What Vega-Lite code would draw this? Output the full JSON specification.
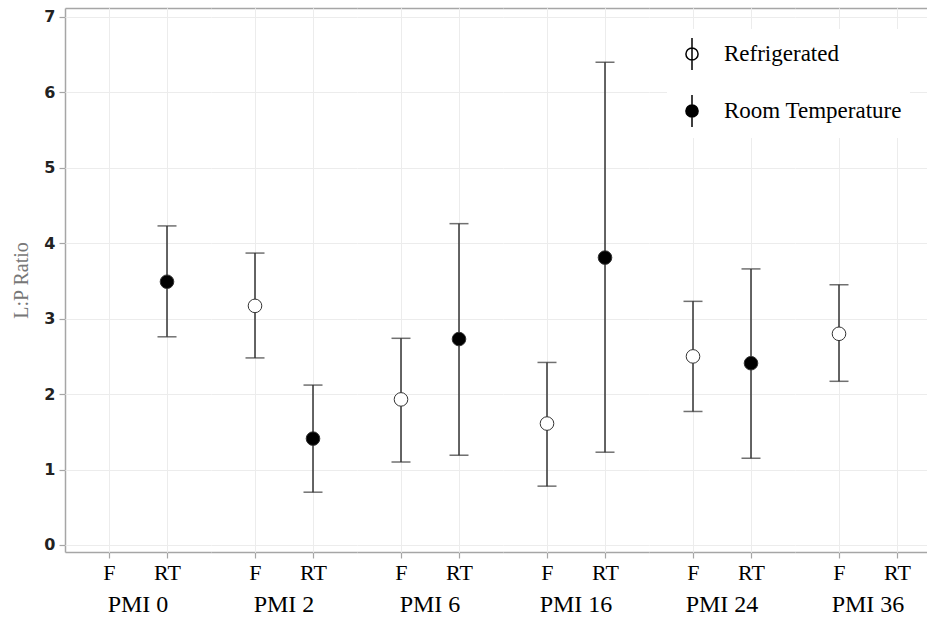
{
  "$schema": "https://vega.github.io/schema/vega-lite/v6.json",
  "background": "white",
  "padding": {"left": 11, "top": 8, "right": 0, "bottom": 0},
  "bounds": "flush",
  "data": {
    "values": [
      {"PMI": "PMI 0", "Storage": "Room Temperature", "ratio": 3.49, "lower": 2.76, "upper": 4.23},
      {"PMI": "PMI 2", "Storage": "Refrigerated", "ratio": 3.17, "lower": 2.48, "upper": 3.87},
      {"PMI": "PMI 2", "Storage": "Room Temperature", "ratio": 1.41, "lower": 0.70, "upper": 2.12},
      {"PMI": "PMI 6", "Storage": "Refrigerated", "ratio": 1.93, "lower": 1.10, "upper": 2.74},
      {"PMI": "PMI 6", "Storage": "Room Temperature", "ratio": 2.73, "lower": 1.19, "upper": 4.26},
      {"PMI": "PMI 16", "Storage": "Refrigerated", "ratio": 1.61, "lower": 0.78, "upper": 2.42},
      {"PMI": "PMI 16", "Storage": "Room Temperature", "ratio": 3.81, "lower": 1.23, "upper": 6.40},
      {"PMI": "PMI 24", "Storage": "Refrigerated", "ratio": 2.50, "lower": 1.77, "upper": 3.23},
      {"PMI": "PMI 24", "Storage": "Room Temperature", "ratio": 2.41, "lower": 1.15, "upper": 3.66},
      {"PMI": "PMI 36", "Storage": "Refrigerated", "ratio": 2.80, "lower": 2.17, "upper": 3.45}
    ]
  },
  "facet": {
    "column": {
      "field": "PMI",
      "type": "nominal",
      "sort": ["PMI 0", "PMI 2", "PMI 6", "PMI 16", "PMI 24", "PMI 36"],
      "header": {
        "title": null,
        "labelOrient": "bottom",
        "labelFont": "Liberation Serif",
        "labelFontSize": 24,
        "labelColor": "black",
        "labelPadding": 10
      }
    }
  },
  "spacing": 0,
  "spec": {
    "width": 146,
    "height": 544,
    "layer": [
      {
        "mark": {
          "type": "errorbar",
          "ticks": {"size": 19, "thickness": 1.5, "color": "#333333"},
          "rule": {"strokeWidth": 1.5, "color": "#333333"}
        },
        "encoding": {
          "x": {"field": "Storage", "type": "nominal", "title": null,
                "scale": {"type": "point", "domain": ["Refrigerated", "Room Temperature"], "padding": 0.7586},
                "axis": {"orient": "top", "labels": false, "ticks": false, "grid": true, "domain": true}},
          "y": {"field": "lower", "type": "quantitative", "title": "L:P Ratio",
                "scale": {"domain": [-0.093, 7.119], "nice": false, "zero": false},
                "axis": {"values": [0, 1, 2, 3, 4, 5, 6, 7], "format": "d"}},
          "y2": {"field": "upper"}
        }
      },
      {
        "mark": {"type": "point", "shape": "circle", "filled": false, "size": 185, "stroke": "#333333", "strokeWidth": 1, "opacity": 1},
        "encoding": {
          "x": {"field": "Storage", "type": "nominal", "title": null, "axis": {"orient": "bottom", "grid": true}},
          "y": {"field": "ratio", "type": "quantitative", "title": "L:P Ratio"},
          "fill": {
            "field": "Storage", "type": "nominal",
            "scale": {"domain": ["Refrigerated", "Room Temperature"], "range": ["white", "black"]},
            "legend": {
              "title": null,
              "orient": "none",
              "legendX": 602,
              "legendY": 21
            }
          }
        }
      }
    ]
  },
  "config": {
    "view": {"stroke": null},
    "axis": {
      "domainColor": "#a6a6a6",
      "domainWidth": 1.5,
      "tickColor": "#a6a6a6",
      "tickSize": 6,
      "tickWidth": 1.2,
      "gridColor": "#ececec",
      "gridWidth": 1
    },
    "axisX": {
      "grid": true,
      "labelAngle": 0,
      "labelFont": "Liberation Serif",
      "labelFontSize": 22,
      "labelColor": "black",
      "labelPadding": 4,
      "labelExpr": "datum.value == 'Refrigerated' ? 'F' : 'RT'"
    },
    "axisY": {
      "grid": true,
      "labelFont": "DejaVu Sans",
      "labelFontWeight": "bold",
      "labelFontSize": 16,
      "labelColor": "#222222",
      "labelPadding": 4,
      "titleFont": "Liberation Serif",
      "titleFontSize": 20,
      "titleFontWeight": "normal",
      "titleColor": "#777777",
      "titlePadding": 12
    },
    "legend": {
      "symbolType": "M0,-1L0,1M0.38,0A0.38,0.38 0 1,1 -0.38,0A0.38,0.38 0 1,1 0.38,0Z",
      "symbolSize": 1024,
      "symbolStrokeColor": "black",
      "symbolStrokeWidth": 1.5,
      "labelFont": "Liberation Serif",
      "labelFontSize": 23,
      "labelColor": "black",
      "labelOffset": 15,
      "labelLimit": 400,
      "rowPadding": 19,
      "fillColor": "white",
      "padding": 8
    }
  }
}
